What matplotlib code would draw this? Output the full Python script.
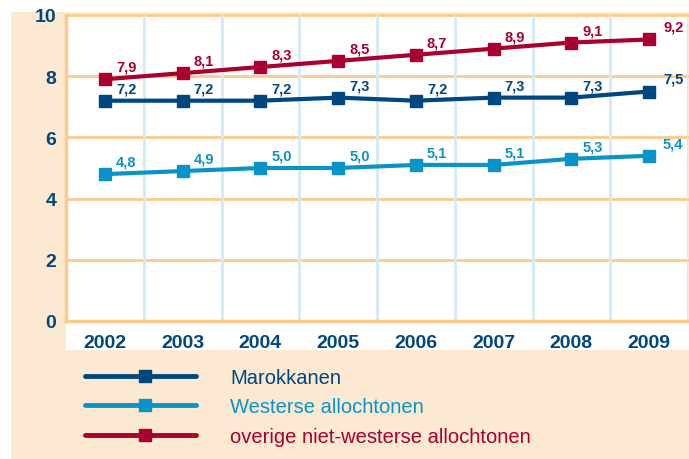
import matplotlib.pyplot as plt
from matplotlib.patches import Rectangle
from matplotlib.lines import Line2D

plt.rcParams['font.family'] = ['Liberation Sans', 'DejaVu Sans']

years = ['2002', '2003', '2004', '2005', '2006', '2007', '2008', '2009']
marokkanen = [7.2, 7.2, 7.2, 7.3, 7.2, 7.3, 7.3, 7.5]
westerse = [4.8, 4.9, 5.0, 5.0, 5.1, 5.1, 5.3, 5.4]
overige = [7.9, 8.1, 8.3, 8.5, 8.7, 8.9, 9.1, 9.2]
series_names = ['Marokkanen', 'Westerse allochtonen', 'overige niet-westerse allochtonen']

dark_blue = '#00467f'
light_blue = '#0a93c6'
red = '#a8002f'
cream = '#fce9d2'
orange = '#f9cb8c'
grid_blue = '#d5eaf4'

W, H = 689, 460
fig = plt.figure(figsize=(W / 100, H / 100), dpi=100)

# cream background and white strip under the plot
fig.patches.append(Rectangle((11 / W, 0), 1 - 11 / W, 1 - 13 / H, transform=fig.transFigure,
                             facecolor=cream, edgecolor='none', zorder=-10))
fig.patches.append(Rectangle((66 / W, (H - 351) / H), 1 - 66 / W, 30 / H, transform=fig.transFigure,
                             facecolor='white', edgecolor='none', zorder=-9))

ax = fig.add_axes([66 / W, (H - 322) / H, (688 - 66) / W, (322 - 16) / H])
ax.set_facecolor('white')
x = range(len(years))
ax.set_xlim(-0.5, len(years) - 0.5)
ax.set_ylim(0, 10)

for v in [2, 4, 6, 8, 10]:
    ax.axhline(v, color=orange, lw=2, zorder=1, clip_on=False)
for i in range(len(years)):
    ax.axvline(i + 0.5, color=grid_blue, lw=2, zorder=1)

for s in ['top', 'right']:
    ax.spines[s].set_visible(False)
ax.spines['left'].set_color(orange)
ax.spines['left'].set_linewidth(2.5)
ax.spines['bottom'].set_color(orange)
ax.spines['bottom'].set_linewidth(2.5)

data = [(marokkanen, dark_blue), (westerse, light_blue), (overige, red)]
for vals, c in data:
    ax.plot(x, vals, color=c, lw=3, marker='s', markersize=9, zorder=3, clip_on=False)
    for i, v in enumerate(vals):
        dx = 10 if i == len(vals) - 1 else 8
        ax.annotate(f'{v:.1f}'.replace('.', ','), (i, v), xytext=(dx, 9), textcoords='offset points',
                    ha='left', va='center', fontsize=10.5, fontweight='bold', color=c)

ax.set_xticks(list(x))
ax.set_xticklabels(years)
ax.set_yticks([0, 2, 4, 6, 8, 10])
ax.tick_params(axis='both', length=0, labelcolor=dark_blue, labelsize=14)
ax.tick_params(axis='x', pad=9)
ax.tick_params(axis='y', pad=7)
for lab in ax.get_xticklabels() + ax.get_yticklabels():
    lab.set_fontweight('bold')

# legend drawn by hand
rows = [377, 406, 436]
for (vals, c), name, yy in zip(data, series_names, rows):
    fy = (H - yy) / H
    fig.add_artist(Line2D([85 / W, 196 / W], [fy, fy], color=c, lw=3.5, solid_capstyle='round'))
    fig.add_artist(Line2D([145 / W], [fy], color=c, marker='s', markersize=9))
    fig.text(230 / W, (H - yy - 2) / H, name, color=c, fontsize=14.5, va='center', ha='left')

fig.savefig('out.png', dpi=100)
